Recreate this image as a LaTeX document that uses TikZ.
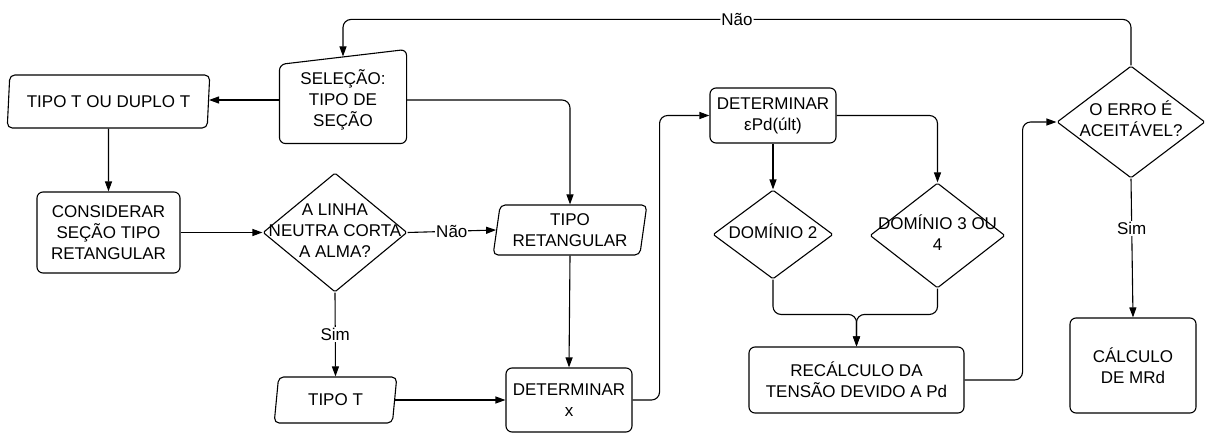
\documentclass[tikz,border=0pt]{standalone}
\usepackage{fontspec}
\setmainfont{Liberation Sans}
\usetikzlibrary{shapes.geometric,arrows.meta,calc}
\tikzset{>={Triangle[length=10pt,width=7pt]}}
\newcommand{\dtxt}[1]{\makebox[0pt]{\begin{tabular}{@{}c@{}}#1\end{tabular}}}

\begin{document}
\begin{tikzpicture}[x=1pt,y=-1pt,line width=1.1pt,
  font=\fontsize{17}{21}\selectfont,
  proc/.style={draw,rounded corners=6pt,align=center,inner sep=0pt},
  dado/.style={draw,trapezium,trapezium left angle=80,trapezium right angle=100,
    trapezium stretches=true,rounded corners=5pt,align=center,inner sep=0pt},
  decisao/.style={draw,diamond,rounded corners=1.5pt,inner sep=0pt},
  rot/.style={fill=white,inner sep=1pt}]
\useasboundingbox (0,0) rectangle (1205,433);

% blocos
\node[dado,minimum width=203pt,minimum height=53pt] (tdt) at (108.5,101.5) {TIPO T OU DUPLO T};
\node[minimum width=126pt,minimum height=86pt,align=center] (sel) at (343,100) {SELEÇÃO:\\TIPO DE\\SEÇÃO};
\draw[rounded corners=6pt] (sel.south west) -- ($(sel.north west)+(0,8)$) -- ($(sel.north east)+(0,-7)$) -- (sel.south east) -- cycle;
\node[proc,minimum width=143pt,minimum height=81pt] (cons) at (108.5,232.5) {CONSIDERAR\\SEÇÃO TIPO\\RETANGULAR};
\node[decisao,minimum width=144pt,minimum height=119pt] (alinha) at (335,232.5) {\dtxt{A LINHA\\NEUTRA CORTA\\A ALMA?}};
\node[dado,minimum width=154pt,minimum height=50pt] (tret) at (570,230) {TIPO\\RETANGULAR};
\node[dado,minimum width=123pt,minimum height=46pt] (tt) at (335.5,400) {TIPO T};
\node[proc,minimum width=126pt,minimum height=64pt] (detx) at (569,400) {DETERMINAR\\x};
\node[proc,minimum width=126pt,minimum height=55pt] (deteps) at (773,115.5) {DETERMINAR\\εPd(últ)};
\node[decisao,minimum width=120pt,minimum height=89pt] (dom2) at (773,234.5) {\dtxt{DOMÍNIO 2}};
\node[decisao,minimum width=135pt,minimum height=105pt] (dom34) at (937.5,235.5) {\dtxt{DOMÍNIO 3 OU\\4}};
\node[proc,minimum width=215pt,minimum height=66pt] (rec) at (856.5,380) {RECÁLCULO DA\\TENSÃO DEVIDO A Pd};
\node[decisao,minimum width=148pt,minimum height=112pt] (erro) at (1131,122) {\dtxt{O ERRO É\\ACEITÁVEL?}};
\node[proc,minimum width=126pt,minimum height=95pt] (calc) at (1133,365.5) {CÁLCULO\\DE MRd};

% ligacoes
\draw[->] (sel.west) -- (sel.west -| tdt.east);
\draw[->] (tdt.south) -- (cons.north);
\draw[->] (cons.east) -- (alinha.west);
\draw[->] (alinha.east) -- (tret.west) node[midway,rot] {Não};
\draw[->] (alinha.south) -- (tt.north) node[midway,rot] {Sim};
\draw[->,rounded corners=8pt] (sel.east) -| (tret.north);
\draw[->] (tret.south) -- (detx.north);
\draw[->] (tt.east) -- (tt.east -| detx.west);
\draw[->,rounded corners=8pt] (detx.east) -- ++(27,0) |- (deteps.west);
\draw[->] (deteps.south) -- (dom2.north);
\draw[->,rounded corners=8pt] (deteps.east) -| (dom34.north);
\draw[->,rounded corners=8pt] (dom2.south) |- ($(rec.north)+(0,-32)$) -- (rec.north);
\draw[->,rounded corners=8pt] (dom34.south) |- ($(rec.north)+(0,-32)$) -- (rec.north);
\draw[->,rounded corners=8pt] (rec.east) -- ++(58,0) |- (erro.west);
\draw[->,rounded corners=8pt] (erro.north) -- ++(0,-46) -| (sel.north) node[pos=0.25,rot] {Não};
\draw[->] (erro.south) -- (calc.north) node[pos=0.36,rot] {Sim};
\end{tikzpicture}
\end{document}
